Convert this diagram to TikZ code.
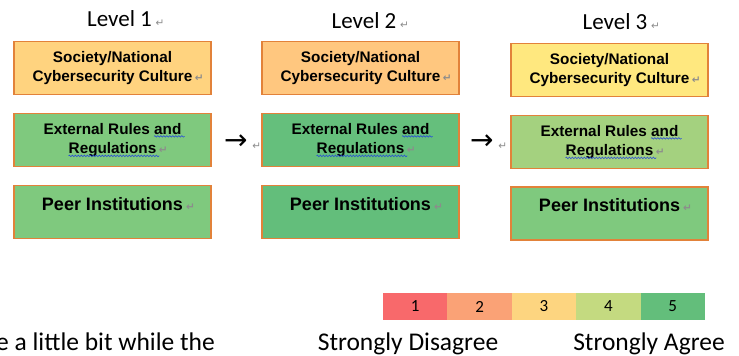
\documentclass[tikz,border=0pt]{standalone}
\usepackage{fontspec}
\setmainfont{Carlito}
\newfontfamily\arialfont{Liberation Sans}
\newfontfamily\symfont{DejaVu Sans}
\usetikzlibrary{positioning,decorations.pathmorphing}

\definecolor{boxline}{HTML}{E2823A}
\definecolor{retgray}{HTML}{8C8C8C}
\definecolor{waveblue}{HTML}{2040E0}
\definecolor{socone}{HTML}{FFD37F}
\definecolor{soctwo}{HTML}{FFC77F}
\definecolor{socthree}{HTML}{FFE87F}
\definecolor{rulesone}{HTML}{7FC97E}
\definecolor{rulestwo}{HTML}{65BF7C}
\definecolor{rulesthree}{HTML}{A4D17F}
\definecolor{peerone}{HTML}{7FC97E}
\definecolor{peertwo}{HTML}{63BE7B}
\definecolor{peerthree}{HTML}{7FC97E}
\definecolor{scaleone}{HTML}{F8696B}
\definecolor{scaletwo}{HTML}{FAA276}
\definecolor{scalethree}{HTML}{FDD580}
\definecolor{scalefour}{HTML}{C4DA80}
\definecolor{scalefive}{HTML}{63BE7B}

\newcommand\retmark{\rlap{\,\textcolor{retgray}{\symfont\fontsize{10.5}{10}\selectfont ↵}}}
\newcommand\spellwave[1]{\tikz[baseline=(sw.base)]{\node[inner sep=0pt] (sw) {#1};
    \draw[overlay, waveblue, line width=0.5pt, decorate, decoration={snake, amplitude=0.8pt, segment length=3pt}]
        ([yshift=-2.2pt]sw.base west) -- ([yshift=-2.2pt,xshift=3pt]sw.base east);}}

\begin{document}
\begin{tikzpicture}[x=1pt,y=-1pt,
    cell/.style={draw=boxline, line width=1.2pt, minimum width=197pt, minimum height=53pt, inner sep=0pt},
    celltext/.style={font=\arialfont\bfseries\fontsize{15.3}{19.5}\selectfont, align=center, inner sep=0pt},
    peertext/.style={font=\arialfont\bfseries\fontsize{18}{20}\selectfont, anchor=base, inner sep=0pt},
    leveltitle/.style={font=\fontsize{23}{24}\selectfont, anchor=base, inner sep=0pt},
    steparrow/.style={font=\symfont\fontsize{28}{28}\selectfont, inner sep=0pt},
    scalecell/.style={minimum width=64.4pt, minimum height=27pt, inner sep=0pt, font=\fontsize{17}{17}\selectfont},
    scalelabel/.style={font=\fontsize{25.5}{27}\selectfont, anchor=base, inner sep=0pt}
]
    \useasboundingbox (0,0) rectangle (739,356);

    % Level 1

    \node[leveltitle] (levelone) at (119.5,26) {Level 1\retmark};

    \node[cell, fill=socone] (socone) at (112.5,68) {};
    \node[celltext] (soconetext) at (socone) {Society/National\\Cybersecurity Culture\retmark};

    \node[cell, fill=rulesone] (rulesone) at (112.5,140) {};
    \node[celltext] (rulesonetext) at (rulesone) {External Rules \spellwave{and}\\\spellwave{Regulations}\retmark};

    \node[cell, fill=peerone] (peerone) at (112.5,212) {};
    \node[peertext] (peeronetext) at ([yshift=2pt]peerone.center) {Peer Institutions\retmark};

    % Level 2

    \node[leveltitle] (leveltwo) at (364,28) {Level 2\retmark};

    \node[cell, fill=soctwo] (soctwo) at (360.5,68) {};
    \node[celltext] (soctwotext) at (soctwo) {Society/National\\Cybersecurity Culture\retmark};

    \node[cell, fill=rulestwo] (rulestwo) at (360.5,140) {};
    \node[celltext] (rulestwotext) at (rulestwo) {External Rules \spellwave{and}\\\spellwave{Regulations}\retmark};

    \node[cell, fill=peertwo] (peertwo) at (360.5,212) {};
    \node[peertext] (peertwotext) at ([yshift=2pt]peertwo.center) {Peer Institutions\retmark};

    % Level 3

    \node[leveltitle] (levelthree) at (615,29) {Level 3\retmark};

    \node[cell, fill=socthree] (socthree) at (609.5,70) {};
    \node[celltext] (socthreetext) at (socthree) {Society/National\\Cybersecurity Culture\retmark};

    \node[cell, fill=rulesthree] (rulesthree) at (609.5,142) {};
    \node[celltext] (rulesthreetext) at (rulesthree) {External Rules \spellwave{and}\\\spellwave{Regulations}\retmark};

    \node[cell, fill=peerthree] (peerthree) at (609.5,213.5) {};
    \node[peertext] (peerthreetext) at ([yshift=2pt]peerthree.center) {Peer Institutions\retmark};

    % Arrows between levels

    \node[steparrow, anchor=base west] (arrowone) at (224,149) {→\retmark};
    \node[steparrow, anchor=base west] (arrowtwo) at (470,149) {→\retmark};

    % Colour scale

    \foreach \i/\c in {1/scaleone,2/scaletwo,3/scalethree,4/scalefour,5/scalefive} {
        \node[scalecell, fill=\c] (scale\i) at ({415.2+(\i-1)*64.4},306.5) {\i};
    }

    \node[scalelabel] (disagree) at (408,350) {Strongly Disagree};
    \node[scalelabel] (agree) at (649,350) {Strongly Agree};

    % Body text cut at the left edge
    \node[scalelabel, anchor=base east] (bodytext) at (215,350) {e a little bit while the};

\end{tikzpicture}
\end{document}
